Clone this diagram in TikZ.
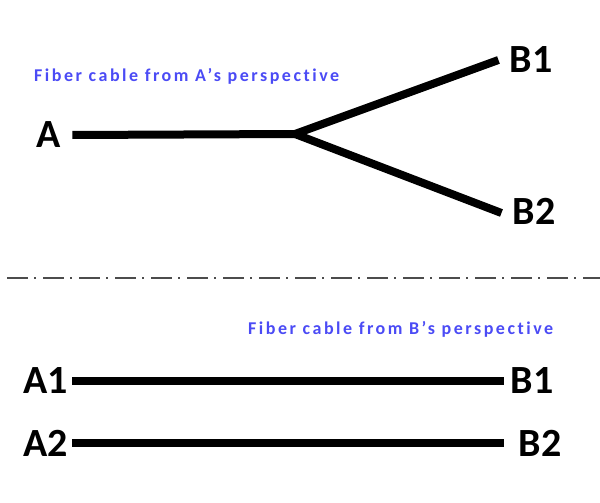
\documentclass[tikz,border=0pt]{standalone}
\usepackage{fontspec}
\setmainfont{Carlito}
\newfontfamily\capfont[LetterSpace=14,Ligatures=NoCommon]{Carlito}
\usepackage{xcolor}
\usepackage{tikz}
\definecolor{capblue}{RGB}{75,75,245}

\begin{document}
\begin{tikzpicture}[x=1pt,y=-1pt,
  endlabel/.style={font=\fontsize{40}{40}\bfseries\selectfont,inner sep=0pt},
  caption/.style={font=\fontsize{18}{18}\capfont\bfseries,text=capblue,inner sep=0pt},
  cable/.style={line width=8pt},
  divider/.style={line width=1.5pt,gray!60!black,dash pattern=on 21pt off 6pt on 2pt off 7pt}]
  \useasboundingbox (0,0) rectangle (600,503);
  % A's view: one cable splitting in two
  \node[caption,anchor=west] (capA) at (34,76) {Fiber cable from A’s perspective};
  \node[endlabel] (A) at (49,135) {A};
  \node[endlabel] (tB1) at (531,60) {B1};
  \node[endlabel] (tB2) at (534,211) {B2};
  \coordinate (split) at (295,134);
  \draw[cable] (A.east)++(11,0) coordinate (Aend) -- (split);
  \draw[cable] (split) -- ([xshift=-11pt]tB1.west);
  \draw[cable] (split) -- ([xshift=-11pt,yshift=-2pt]tB2.west);
  % separator
  \coordinate (sepL) at (7,278);
  \coordinate (sepR) at (600,278);
  \draw[divider] (sepL) -- (sepR);
  % B's view: two separate cables
  \node[caption,anchor=west] (capB) at (248,329) {Fiber cable from B’s perspective};
  \node[endlabel] (A1) at (46,381) {A1};
  \node[endlabel] (A2) at (46,443) {A2};
  \node[endlabel] (bB1) at (532,381) {B1};
  \node[endlabel] (bB2) at (540,443) {B2};
  \draw[cable] ([xshift=4pt]A1.east) -- ([xshift=-6pt]bB1.west);
  \draw[cable] ([xshift=4pt]A2.east) -- ([xshift=-14pt]bB2.west);
\end{tikzpicture}
\end{document}
